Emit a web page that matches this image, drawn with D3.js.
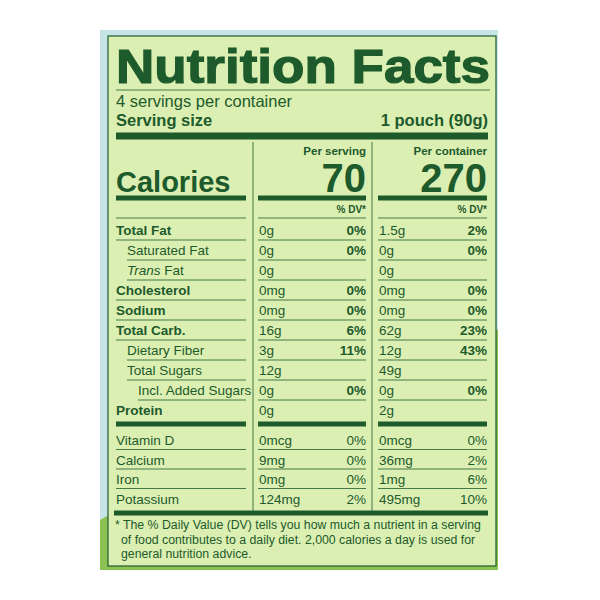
<!DOCTYPE html><html><head><meta charset="utf-8"><script src="https://cdn.jsdelivr.net/npm/d3@7"></script>
<style>body{margin:0;background:#fff}</style></head><body><script>
const nutrients=["Total Fat","Saturated Fat","Trans Fat","Cholesterol","Sodium","Total Carb.","Dietary Fiber","Total Sugars","Incl. Added Sugars","Protein"];
const indent=[0,1,1,0,0,0,1,1,2,0];
const boldRow=[1,0,0,1,1,1,0,0,0,1];
const servAmt=["0g","0g","0g","0mg","0mg","16g","3g","12g","0g","0g"];
const servDV=["0%","0%","","0%","0%","6%","11%","","0%",""];
const contAmt=["1.5g","0g","0g","0mg","0mg","62g","12g","49g","0g","2g"];
const contDV=["2%","0%","","0%","0%","23%","43%","","0%",""];
const vitamins=["Vitamin D","Calcium","Iron","Potassium"];
const vServAmt=["0mcg","9mg","0mg","124mg"],vServDV=["0%","0%","0%","2%"];
const vContAmt=["0mcg","36mg","1mg","495mg"],vContDV=["0%","2%","6%","10%"];
const calories=[70,270];
const G="#1d5a2c",F="Liberation Sans, Arial, sans-serif";
const svg=d3.select("body").append("svg").attr("width",600).attr("height",600).style("font-family",F);
svg.append("rect").attr("x",100).attr("y",30).attr("width",398).attr("height",540).attr("fill","#c6e3e6");
svg.append("path").attr("d","M440,330 Q470,320 498,330 L498,570 L100,570 L100,520 Z").attr("fill","#8cc251");
svg.append("rect").attr("x",108).attr("y",36).attr("width",388).attr("height",530).attr("fill","#dcefb2").attr("stroke",G).attr("stroke-width",1.2);
const t=(x,y,s,txt,o={})=>svg.append("text").attr("x",x).attr("y",y).attr("font-size",s).attr("fill",G).attr("font-weight",o.b?"bold":"normal").attr("font-style",o.i?"italic":null).attr("text-anchor",o.a||"start").text(txt);
const hl=(x1,x2,y,w)=>svg.append("line").attr("x1",x1).attr("x2",x2).attr("y1",y).attr("y2",y).attr("stroke",G).attr("stroke-width",w);
t(116,83,48,"Nutrition Facts",{b:1}).attr("textLength",374).attr("lengthAdjust","spacingAndGlyphs").attr("stroke",G).attr("stroke-width",1.2);
hl(116,490,90,0.8);
t(116,107,16.5,"4 servings per container");
t(116,126,16.5,"Serving size",{b:1});t(488,126,16.5,"1 pouch (90g)",{b:1,a:"end"});
hl(116,488,136,7);
const cols=[{l:258,r:366},{l:378,r:487}];
svg.append("line").attr("x1",253).attr("x2",253).attr("y1",142).attr("y2",511).attr("stroke",G).attr("stroke-width",0.8);
svg.append("line").attr("x1",372).attr("x2",372).attr("y1",142).attr("y2",511).attr("stroke",G).attr("stroke-width",0.8);
t(366,155,11.5,"Per serving",{b:1,a:"end"});t(487,155,11.5,"Per container",{b:1,a:"end"});
t(116,192,29,"Calories",{b:1});
cols.forEach((c,i)=>{t(c.r,192,40,calories[i],{b:1,a:"end"});hl(c.l,c.r,198,5);t(c.r,213,10,"% DV*",{b:1,a:"end"});});
hl(116,246,198,5);
const y=d3.scaleBand().domain(d3.range(nutrients.length)).range([220,420]);
hl(116,246,218,0.8);cols.forEach(c=>hl(c.l,c.r,218,0.8));
nutrients.forEach((n,i)=>{const yy=y(i)+15;
 const lab=t(116+indent[i]*11,yy,13.5,"",{b:boldRow[i]});
 if(n==="Trans Fat"){lab.append("tspan").attr("font-style","italic").text("Trans");lab.append("tspan").text(" Fat");}else lab.text(n);
 t(259,yy,13.5,servAmt[i]);t(366,yy,13.5,servDV[i],{b:1,a:"end"});
 t(379,yy,13.5,contAmt[i]);t(487,yy,13.5,contDV[i],{b:1,a:"end"});
 if(i<nutrients.length-1){hl(116+indent[i]*11,246,y(i)+y.bandwidth(),0.8);cols.forEach(c=>hl(c.l,c.r,y(i)+y.bandwidth(),0.8));}
});
hl(116,246,424,5);cols.forEach(c=>hl(c.l,c.r,424,5));
const yv=d3.scaleBand().domain(d3.range(vitamins.length)).range([430,508]);
vitamins.forEach((n,i)=>{const yy=yv(i)+15;
 t(116,yy,13.5,n);t(259,yy,13.5,vServAmt[i]);t(366,yy,13.5,vServDV[i],{a:"end"});
 t(379,yy,13.5,vContAmt[i]);t(487,yy,13.5,vContDV[i],{a:"end"});
 if(i<vitamins.length-1){hl(116,246,yv(i)+yv.bandwidth(),0.8);cols.forEach(c=>hl(c.l,c.r,yv(i)+yv.bandwidth(),0.8));}
});
hl(114,488,513,5);
t(115,529,12.3,"* The % Daily Value (DV) tells you how much a nutrient in a serving");
t(121,544,12.3,"of food contributes to a daily diet. 2,000 calories a day is used for");
t(121,558,12.3,"general nutrition advice.");
</script></body></html>
